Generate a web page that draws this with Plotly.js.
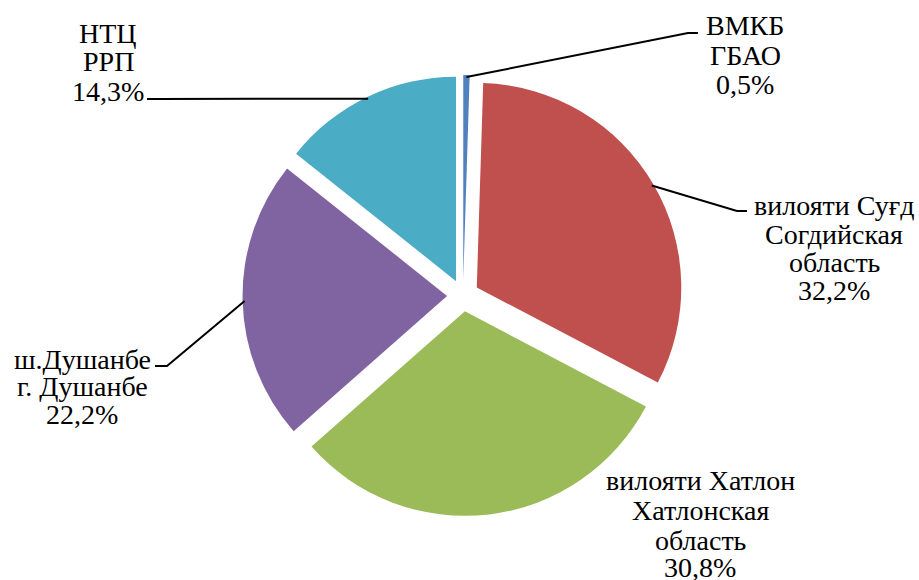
<!DOCTYPE html>
<html>
<head>
<meta charset="utf-8">
<script src="https://cdn.plot.ly/plotly-3.0.1.min.js"></script>
<style>html,body{margin:0;padding:0;background:#fff;}#chart{width:919px;height:580px;}</style>
</head>
<body>
<div id="chart"></div>
<script>
// ---- data ----
const categories = ['ВМКБ ГБАО', 'вилояти Суғд Согдийская область', 'вилояти Хатлон Хатлонская область', 'ш.Душанбе г. Душанбе', 'НТЦ РРП'];
const labelLines = [
  ['ВМКБ', 'ГБАО'],
  ['вилояти Суғд', 'Согдийская', 'область'],
  ['вилояти Хатлон', 'Хатлонская', 'область'],
  ['ш.Душанбе', 'г. Душанбе'],
  ['НТЦ', 'РРП']
];
const values = [0.5, 32.2, 30.8, 22.2, 14.3];
const colors = ['#4F81BD', '#C0504D', '#9BBB59', '#8064A2', '#4BACC6'];

// ---- layout config (pixels) ----
const W = 919, H = 580;
const CX = 463, CY = 295.5, R = 204.5, PULL = 0.078;
const FS = 28;
const FAMILY = 'Liberation Serif';
const labelPos = [
  {x: 745, y: [25, 55, 84]},
  {x: 834, y: [205, 234.5, 262.5, 290.5]},
  {x: 700, y: [480, 510, 540, 567]},
  {x: 82,  y: [359, 386.5, 414]},
  {x: 108, y: [33, 61.5, 92]}
];
const leaderPts = [
  [[688, 33], [698, 33]],
  [[737, 211], [747, 211]],
  null,
  [[167, 366], [155, 366]],
  [[157, 99], [147, 99]]
];

const px = x => x / W;
const py = y => 1 - y / H;
const D = 2 * R * (1 + PULL);

const total = values.reduce((a, b) => a + b, 0);
const annotations = [];
const shapes = [];
let cum = 0;
values.forEach((v, i) => {
  const mid = (cum + v / 2) / total * 2 * Math.PI;
  cum += v;
  const pct = v.toFixed(1).replace('.', ',') + '%';
  const lines = labelLines[i].concat([pct]);
  lines.forEach((t, k) => {
    annotations.push({
      xref: 'paper', yref: 'paper', x: px(labelPos[i].x), y: py(labelPos[i].y[k]),
      xanchor: 'center', yanchor: 'middle', showarrow: false, text: t,
      font: {family: FAMILY, size: FS, color: '#000'}
    });
  });
  if (leaderPts[i]) {
    const rr = R * (1 + PULL) - 2;
    const ax = CX + rr * Math.sin(mid), ay = CY - rr * Math.cos(mid);
    let path = 'M' + px(ax) + ',' + py(ay);
    leaderPts[i].forEach(p => { path += ' L' + px(p[0]) + ',' + py(p[1]); });
    shapes.push({type: 'path', xref: 'paper', yref: 'paper', path: path,
      line: {color: '#000', width: 2}});
  }
});

const trace = {
  type: 'pie',
  labels: categories,
  values: values,
  sort: false,
  direction: 'clockwise',
  rotation: 0,
  pull: values.map(() => PULL),
  marker: {colors: colors, line: {width: 0}},
  textinfo: 'none',
  domain: {x: [(CX - D / 2) / W, (CX + D / 2) / W], y: [1 - (CY + D / 2) / H, 1 - (CY - D / 2) / H]},
  showlegend: false
};

const layout = {
  width: W, height: H,
  margin: {l: 0, r: 0, t: 0, b: 0},
  paper_bgcolor: '#fff',
  font: {family: FAMILY},
  showlegend: false,
  annotations: annotations,
  shapes: shapes
};

Plotly.newPlot('chart', [trace], layout, {staticPlot: true, displayModeBar: false});
</script>
</body>
</html>
